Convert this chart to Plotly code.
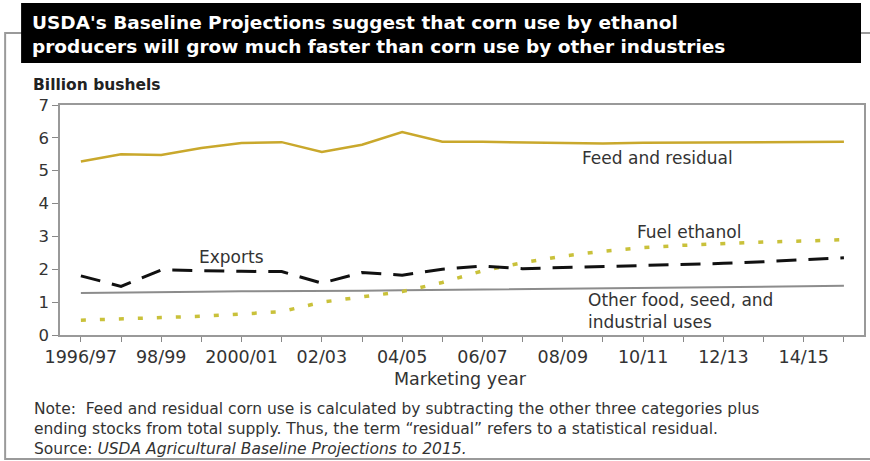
import plotly.graph_objects as go

years = ["1996/97", "97/98", "98/99", "99/00", "2000/01", "01/02", "02/03", "03/04", "04/05", "05/06",
         "06/07", "07/08", "08/09", "09/10", "10/11", "11/12", "12/13", "13/14", "14/15", "15/16"]
feed = [5.28, 5.5, 5.48, 5.69, 5.84, 5.87, 5.57, 5.79, 6.18, 5.88,
        5.88, 5.87, 5.85, 5.83, 5.85, 5.86, 5.86, 5.87, 5.88, 5.88]
exports = [1.8, 1.48, 1.98, 1.95, 1.94, 1.93, 1.58, 1.9, 1.82, 2.0,
           2.1, 2.02, 2.05, 2.07, 2.1, 2.13, 2.18, 2.23, 2.28, 2.35]
ethanol = [0.45, 0.5, 0.53, 0.57, 0.65, 0.71, 1.0, 1.17, 1.32, 1.6,
           1.95, 2.2, 2.4, 2.55, 2.66, 2.73, 2.79, 2.83, 2.86, 2.9]
other = [1.28, 1.3, 1.31, 1.32, 1.33, 1.33, 1.34, 1.35, 1.36, 1.37,
         1.39, 1.41, 1.42, 1.43, 1.44, 1.45, 1.46, 1.47, 1.48, 1.5]
tick_labels = [y if i % 2 == 0 else "" for i, y in enumerate(years)]
y_ticks = [0, 1, 2, 3, 4, 5, 6, 7]
note_lines = [
    "Note:  Feed and residual corn use is calculated by subtracting the other three categories plus",
    "ending stocks from total supply. Thus, the term \u201cresidual\u201d refers to a statistical residual.",
    "Source: <i>USDA Agricultural Baseline Projections to 2015.</i>",
]

FONT = "DejaVu Sans, Verdana, sans-serif"
idx = list(range(len(years)))

fig = go.Figure()
fig.add_trace(go.Scatter(x=idx, y=other, mode="lines",
                         line=dict(color="#8c8c8c", width=2), name="Other"))
fig.add_trace(go.Scatter(x=idx, y=ethanol, mode="lines",
                         line=dict(color="#c9c13a", width=3.5, dash="5px,14px"), name="Fuel ethanol"))
fig.add_trace(go.Scatter(x=idx, y=exports, mode="lines",
                         line=dict(color="#111111", width=3, dash="20px,12px"), name="Exports"))
fig.add_trace(go.Scatter(x=idx, y=feed, mode="lines",
                         line=dict(color="#c9a82c", width=2.5), name="Feed and residual"))

# pixel -> paper helpers (plot area x 60..866, y 105..335)
def px(x):
    return (x - 60) / 806.0

def py(y):
    return (335 - y) / 230.0

shapes = [
    dict(type="rect", xref="paper", yref="paper", x0=px(5), x1=px(880), y0=py(459), y1=py(33),
         line=dict(color="#9a9a9a", width=2), fillcolor="rgba(0,0,0,0)", layer="below"),
    dict(type="rect", xref="paper", yref="paper", x0=px(21), x1=px(863), y0=py(63), y1=py(3),
         line=dict(color="#000000", width=0), fillcolor="#000000"),
]

annotations = [
    dict(xref="paper", yref="paper", x=px(30), y=py(22), xanchor="left", yanchor="middle",
         text="<b>USDA's Baseline Projections suggest that corn use by ethanol</b>",
         showarrow=False, font=dict(family=FONT, size=18.5, color="white")),
    dict(xref="paper", yref="paper", x=px(30), y=py(47), xanchor="left", yanchor="middle",
         text="<b>producers will grow much faster than corn use by other industries</b>",
         showarrow=False, font=dict(family=FONT, size=18.5, color="white")),
    dict(xref="paper", yref="paper", x=px(31), y=py(85), xanchor="left", yanchor="middle",
         text="<b>Billion bushels</b>", showarrow=False,
         font=dict(family=FONT, size=15.5, color="#222")),
    dict(xref="x", yref="y", x=12.43, y=5.39, xanchor="left", yanchor="middle",
         text="Feed and residual", showarrow=False, font=dict(family=FONT, size=17, color="#333")),
    dict(xref="x", yref="y", x=13.8, y=3.13, xanchor="left", yanchor="middle",
         text="Fuel ethanol", showarrow=False, font=dict(family=FONT, size=17, color="#333")),
    dict(xref="x", yref="y", x=2.88, y=2.37, xanchor="left", yanchor="middle",
         text="Exports", showarrow=False, font=dict(family=FONT, size=17, color="#333")),
    dict(xref="x", yref="y", x=12.57, y=0.72, xanchor="left", yanchor="middle", align="left",
         text="Other food, seed, and<br>industrial uses", showarrow=False,
         font=dict(family=FONT, size=17, color="#333")),
    dict(xref="paper", yref="paper", x=px(32), y=py(398), xanchor="left", yanchor="top", align="left",
         text="<br>".join(note_lines), showarrow=False,
         font=dict(family=FONT, size=15.5, color="#333")),
    dict(xref="paper", yref="paper", x=px(461), y=py(379), xanchor="center", yanchor="middle",
         text="Marketing year", showarrow=False, font=dict(family=FONT, size=17.5, color="#333")),
]

fig.update_layout(
    width=870, height=461,
    margin=dict(l=60, r=4, t=105, b=126, pad=0),
    paper_bgcolor="white", plot_bgcolor="white",
    showlegend=False,
    shapes=shapes, annotations=annotations,
    font=dict(family=FONT, color="#333"),
    xaxis=dict(range=[-0.52, 19.5], tickmode="array", tickvals=idx, ticktext=tick_labels,
               ticks="outside", ticklen=5, tickcolor="#888", showline=True, linecolor="#999",
               linewidth=1.5, mirror=True, showgrid=False, zeroline=False,
               tickfont=dict(family=FONT, size=17.5, color="#333")),
    yaxis=dict(range=[0, 7], tickmode="array", tickvals=y_ticks, ticks="outside", ticklen=6,
               tickcolor="#888", showline=True, linecolor="#999", linewidth=1.5, mirror=True,
               showgrid=False, zeroline=False,
               tickfont=dict(family=FONT, size=16.5, color="#333")),
)

fig.write_html("out.html")
